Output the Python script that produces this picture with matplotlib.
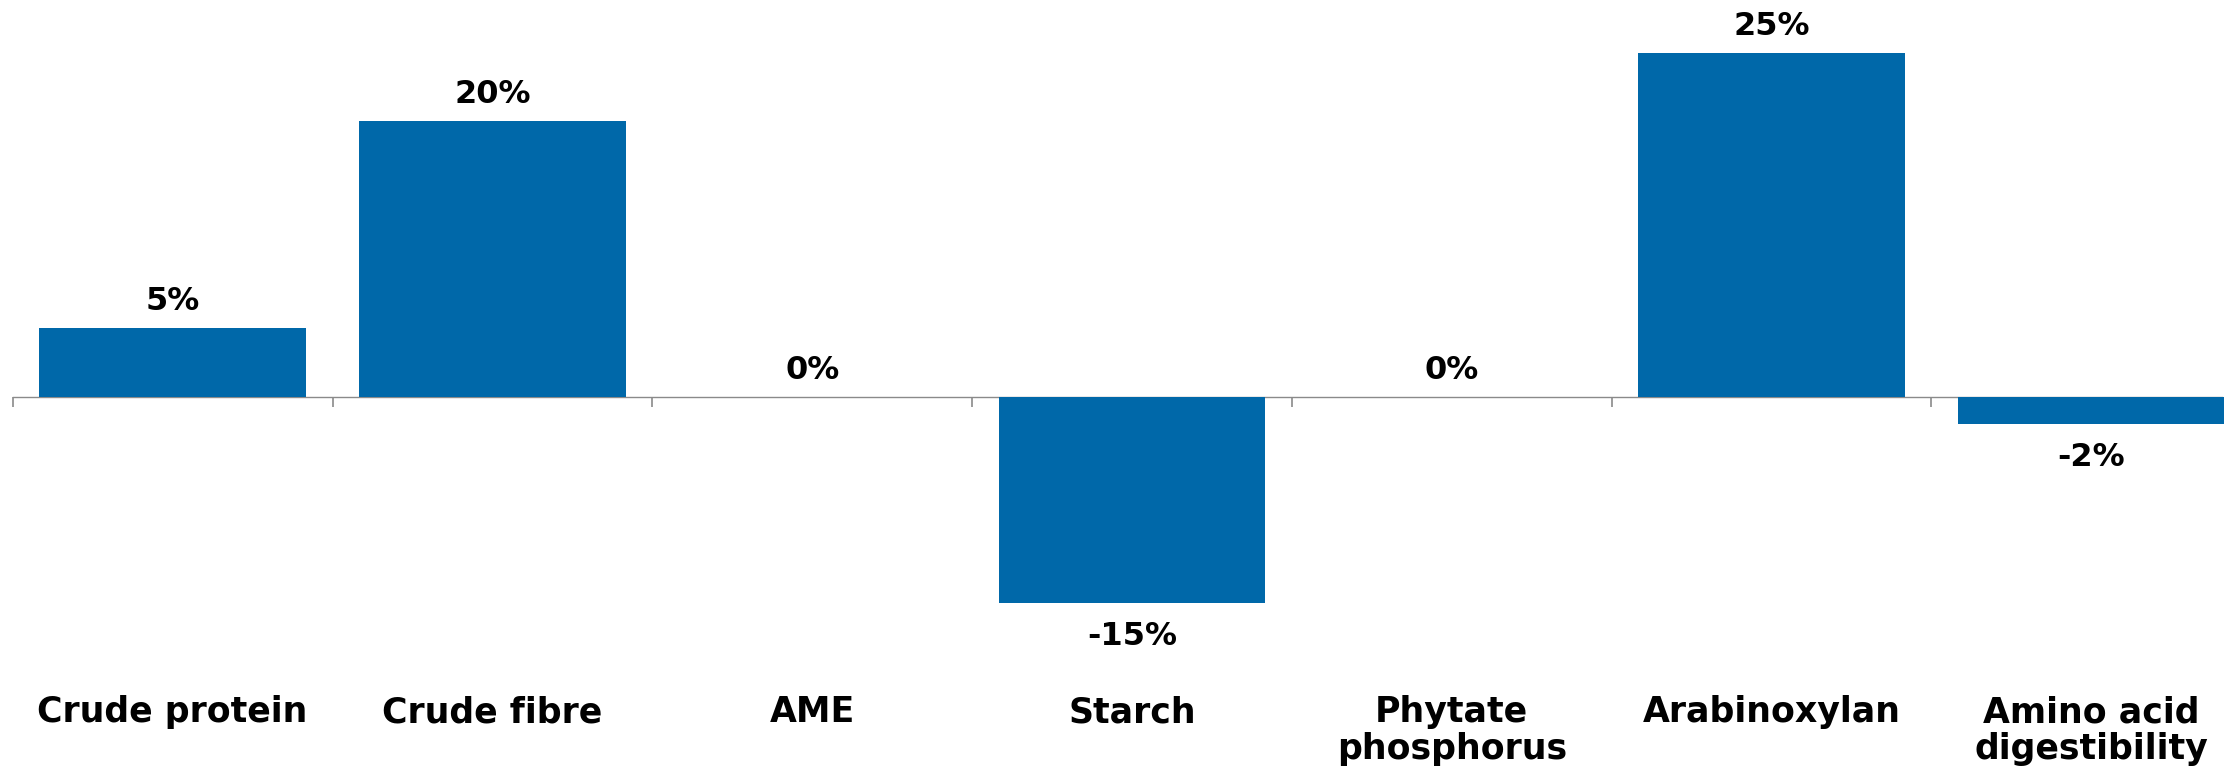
import matplotlib
matplotlib.use("Agg")
import matplotlib.pyplot as plt

# Change in composition, per cent
categories = ["Crude protein", "Crude fibre", "AME", "Starch",
              "Phytate\nphosphorus", "Arabinoxylan", "Amino acid\ndigestibility"]
changes = [5, 20, 0, -15, 0, 25, -2]

BAR_COLOR = "#0068A9"
AXIS_GREY = "#8A8A8A"

plt.rcParams["font.family"] = ["DejaVu Sans"]
plt.rcParams["font.weight"] = "bold"

fig = plt.figure(figsize=(22.3, 7.66), dpi=100)
ax = fig.add_axes([0, 0, 1, 1])

xs = list(range(len(categories)))
ax.bar(xs, changes, width=0.833, color=BAR_COLOR, zorder=3)

# value labels above positive/zero bars, below negative ones
for x, v in zip(xs, changes):
    off = 13 if v >= 0 else -30
    ax.annotate(f"{v}%", xy=(x, v), xytext=(0, off), textcoords="offset points",
                ha="center", va="baseline", fontsize=23, fontweight="bold",
                color="black", zorder=4)

# axis line at zero with ticks between categories
for side in ("top", "right", "left"):
    ax.spines[side].set_visible(False)
ax.spines["bottom"].set_position(("data", 0))
ax.spines["bottom"].set_bounds(-0.5, 6.41)
ax.spines["bottom"].set_color(AXIS_GREY)
ax.spines["bottom"].set_linewidth(1.0)
ax.spines["bottom"].set_zorder(2)

ax.set_yticks([])
ax.set_xticks([i - 0.5 for i in range(len(categories) + 1)])
ax.set_xticklabels([""] * (len(categories) + 1))
ax.tick_params(axis="x", which="major", direction="out", length=7.2,
               width=1.2, color=AXIS_GREY)

ax.set_xticks(xs, minor=True)
ax.set_xticklabels(categories, minor=True, fontsize=25, fontweight="bold")
ax.tick_params(axis="x", which="minor", length=0, pad=215)
for t in ax.get_xticklabels(minor=True):
    t.set_linespacing(1.08)

ax.set_xlim(-0.54, 6.434)
ax.set_ylim(-26.81, 28.82)

fig.savefig("out.png", dpi=100)
